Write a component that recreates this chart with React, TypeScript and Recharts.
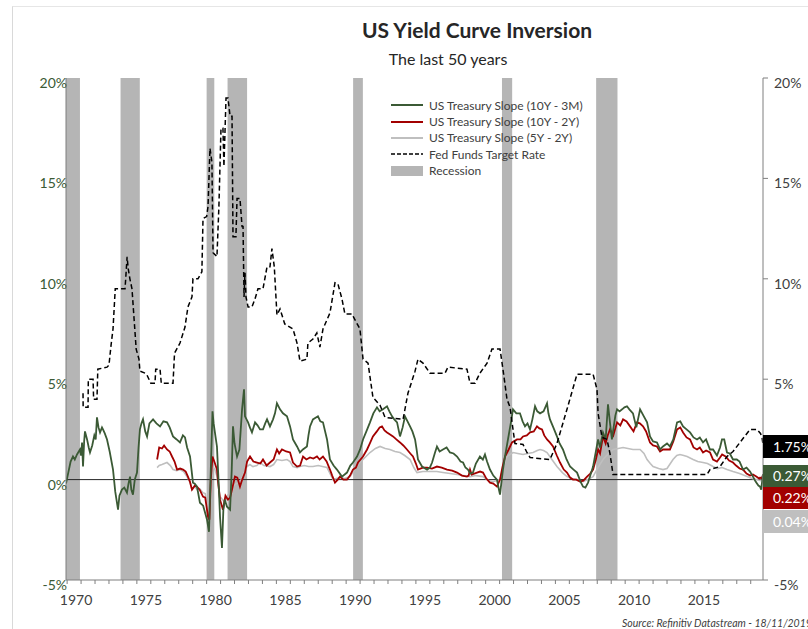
import { ComposedChart, Line, XAxis, YAxis, ReferenceArea, ReferenceLine } from 'recharts'

// [decimal year, %]
const slope10y3m: [number, number][] = [
  [1969.92, -0.2], [1970.1, 0.4], [1970.25, 0.9], [1970.42, 1.15], [1970.55, 1.0], [1970.71, 1.25], [1970.92, 1.5],
  [1971.0, 1.2], [1971.07, 1.85], [1971.14, 0.65], [1971.22, 1.9], [1971.28, 2.4], [1971.43, 2.0], [1971.55, 1.6],
  [1971.64, 1.35], [1971.8, 1.7], [1971.95, 2.2], [1972.05, 2.0], [1972.14, 3.1], [1972.25, 2.6], [1972.36, 2.35],
  [1972.5, 2.6], [1972.57, 2.5], [1972.7, 2.3], [1972.86, 2.0], [1973.05, 1.4], [1973.29, 0.5], [1973.45, -0.6],
  [1973.65, -1.5], [1973.75, -0.8], [1973.93, -0.5], [1974.1, -0.4], [1974.29, -0.65], [1974.4, -0.2], [1974.51, 0.15],
  [1974.6, -0.5], [1974.72, -0.75], [1974.85, 0.0], [1975.01, 0.35], [1975.12, 1.6], [1975.22, 2.5], [1975.33, 2.8],
  [1975.44, 3.0], [1975.6, 2.4], [1975.73, 2.15], [1975.9, 2.8], [1976.16, 3.0], [1976.4, 2.8], [1976.66, 2.65],
  [1976.9, 2.9], [1977.16, 2.85], [1977.35, 2.6], [1977.59, 2.15], [1977.85, 2.0], [1978.09, 1.85], [1978.3, 2.2],
  [1978.45, 2.1], [1978.6, 1.6], [1978.81, 1.15], [1979.02, -0.15], [1979.15, -0.2], [1979.31, -0.35], [1979.52, -1.15],
  [1979.75, -1.3], [1980.03, -2.0], [1980.17, -2.6], [1980.3, 0.5], [1980.42, 3.4], [1980.5, 2.8], [1980.74, 1.65],
  [1980.85, 0.0], [1980.96, -1.85], [1981.1, -3.4], [1981.2, -1.5], [1981.3, -1.0], [1981.46, -1.35], [1981.68, -1.5],
  [1981.8, 0.5], [1981.89, 2.65], [1982.0, 1.8], [1982.18, 1.15], [1982.35, 1.5], [1982.54, 3.5], [1982.68, 4.5],
  [1982.75, 3.15], [1982.97, 2.85], [1983.1, 2.6], [1983.25, 2.35], [1983.47, 2.85], [1983.65, 2.7], [1983.83, 2.5],
  [1984.04, 2.5], [1984.2, 2.8], [1984.33, 3.0], [1984.54, 2.65], [1984.76, 3.0], [1984.9, 3.3], [1985.04, 3.8],
  [1985.26, 3.5], [1985.47, 3.3], [1985.76, 3.15], [1985.98, 2.65], [1986.19, 2.0], [1986.48, 1.65], [1986.69, 1.35],
  [1986.9, 1.5], [1987.19, 1.65], [1987.3, 2.2], [1987.41, 2.65], [1987.62, 3.0], [1987.98, 3.15], [1988.15, 2.9],
  [1988.34, 2.85], [1988.63, 2.0], [1988.84, 1.0], [1989.1, 0.7], [1989.34, 0.5], [1989.7, 0.15], [1990.06, 0.35],
  [1990.3, 0.7], [1990.49, 0.85], [1990.78, 1.15], [1991.0, 1.5], [1991.21, 2.0], [1991.45, 2.4], [1991.71, 2.85],
  [1991.95, 3.3], [1992.21, 3.6], [1992.4, 3.4], [1992.64, 3.5], [1992.93, 3.65], [1993.1, 3.4], [1993.29, 3.15],
  [1993.45, 3.0], [1993.65, 2.85], [1993.86, 2.15], [1994.05, 2.6], [1994.22, 3.15], [1994.4, 2.9], [1994.58, 2.65],
  [1994.75, 2.4], [1994.94, 2.0], [1995.05, 1.5], [1995.15, 1.0], [1995.44, 0.65], [1995.8, 0.5], [1996.0, 0.6],
  [1996.16, 0.85], [1996.35, 1.3], [1996.51, 1.65], [1996.7, 1.4], [1996.94, 1.5], [1997.2, 1.6], [1997.44, 1.35],
  [1997.7, 1.3], [1997.95, 1.15], [1998.2, 0.9], [1998.38, 0.85], [1998.55, 0.6], [1998.73, 0.5], [1998.9, 0.3],
  [1999.09, 0.35], [1999.3, 0.8], [1999.59, 1.15], [1999.8, 1.0], [1999.95, 1.25], [2000.1, 0.9], [2000.31, 0.5],
  [2000.55, 0.2], [2000.81, 0.0], [2000.95, -0.5], [2001.03, -0.75], [2001.12, -0.2], [2001.24, 0.5], [2001.4, 1.2],
  [2001.6, 2.0], [2001.8, 2.8], [2001.96, 3.5], [2002.2, 3.3], [2002.46, 3.3], [2002.65, 2.9], [2002.82, 2.65],
  [2003.0, 2.8], [2003.18, 2.5], [2003.35, 3.0], [2003.54, 3.65], [2003.7, 3.4], [2003.9, 3.3], [2004.15, 3.4],
  [2004.4, 3.8], [2004.5, 3.3], [2004.61, 3.0], [2004.85, 2.6], [2005.11, 2.15], [2005.3, 1.8], [2005.54, 1.5],
  [2005.8, 1.0], [2006.05, 0.65], [2006.3, 0.5], [2006.55, 0.35], [2006.8, -0.1], [2006.98, -0.35], [2007.15, -0.4],
  [2007.34, -0.15], [2007.5, 0.2], [2007.7, 0.65], [2007.9, 1.4], [2008.06, 2.0], [2008.2, 1.6], [2008.41, 2.35],
  [2008.6, 2.0], [2008.77, 3.75], [2008.9, 2.9], [2009.05, 2.0], [2009.13, 2.4], [2009.3, 3.2], [2009.42, 3.5],
  [2009.6, 3.4], [2009.78, 3.5], [2009.95, 3.6], [2010.13, 3.65], [2010.3, 3.5], [2010.56, 3.3], [2010.8, 2.6],
  [2011.07, 3.5], [2011.3, 3.2], [2011.57, 2.85], [2011.78, 2.15], [2012.0, 1.9], [2012.28, 1.85], [2012.5, 1.5],
  [2012.71, 1.65], [2013.0, 1.8], [2013.21, 1.65], [2013.45, 2.0], [2013.72, 2.85], [2013.95, 2.9], [2014.15, 2.65],
  [2014.4, 2.5], [2014.65, 2.35], [2014.9, 2.1], [2015.15, 2.0], [2015.35, 2.1], [2015.58, 1.85], [2015.8, 2.0],
  [2016.08, 1.5], [2016.3, 1.5], [2016.58, 1.2], [2016.8, 1.6], [2016.94, 2.0], [2017.1, 2.0], [2017.3, 1.35],
  [2017.5, 1.3], [2017.73, 1.0], [2018.0, 1.0], [2018.2, 0.9], [2018.45, 0.5], [2018.7, 0.6], [2018.95, 0.4],
  [2019.16, 0.15], [2019.35, -0.1], [2019.55, -0.3], [2019.67, -0.35], [2019.75, -0.5], [2019.88, 0.27],
]

const slope10y2y: [number, number][] = [
  [1976.45, 1.0], [1976.6, 1.6], [1976.8, 1.55], [1976.95, 1.7], [1977.16, 1.5], [1977.35, 1.4], [1977.52, 1.15],
  [1977.7, 0.9], [1977.88, 0.5], [1978.1, 0.55], [1978.31, 0.5], [1978.5, 0.4], [1978.66, 0.15], [1978.8, -0.1],
  [1978.95, -0.5], [1979.15, -0.3], [1979.31, -0.35], [1979.5, -0.5], [1979.74, -0.85], [1979.9, -0.9], [1980.1, -1.85],
  [1980.2, -2.0], [1980.3, 0.0], [1980.42, 1.15], [1980.6, 0.8], [1980.74, 0.5], [1980.85, -0.3], [1980.96, -1.0],
  [1981.17, -1.5], [1981.35, -0.8], [1981.53, -1.0], [1981.68, -0.9], [1981.82, -0.5], [1982.03, 0.15], [1982.2, 0.1],
  [1982.39, -0.35], [1982.55, 0.0], [1982.75, 0.35], [1982.9, 0.9], [1983.11, 1.15], [1983.35, 0.9], [1983.61, 0.85],
  [1983.85, 0.8], [1984.04, 1.0], [1984.3, 0.7], [1984.54, 0.85], [1984.8, 1.0], [1985.04, 1.5], [1985.2, 1.3],
  [1985.4, 1.5], [1985.7, 1.4], [1985.98, 1.35], [1986.19, 0.85], [1986.48, 0.65], [1986.7, 0.7], [1986.91, 1.15],
  [1987.15, 1.0], [1987.41, 1.1], [1987.65, 1.05], [1987.91, 1.15], [1988.1, 1.0], [1988.34, 1.15], [1988.6, 0.9],
  [1988.84, 0.5], [1989.0, 0.2], [1989.2, -0.15], [1989.4, 0.0], [1989.56, 0.15], [1989.8, 0.0], [1990.06, 0.0],
  [1990.28, 0.2], [1990.49, 0.5], [1990.7, 0.6], [1990.85, 0.85], [1991.21, 1.15], [1991.5, 1.5], [1991.7, 1.8],
  [1991.92, 2.15], [1992.2, 2.4], [1992.4, 2.6], [1992.57, 2.65], [1992.75, 2.45], [1992.93, 2.35], [1993.15, 2.25],
  [1993.36, 2.15], [1993.6, 2.0], [1993.86, 1.85], [1994.1, 1.7], [1994.36, 1.5], [1994.6, 1.3], [1994.79, 1.15],
  [1995.0, 0.8], [1995.15, 0.5], [1995.5, 0.6], [1995.8, 0.6], [1996.15, 0.55], [1996.51, 0.65], [1996.85, 0.6],
  [1997.23, 0.5], [1997.6, 0.45], [1997.95, 0.35], [1998.3, 0.2], [1998.66, 0.15], [1998.78, 0.2], [1998.88, 0.5],
  [1999.0, 0.25], [1999.38, 0.35], [1999.6, 0.4], [1999.81, 0.35], [2000.05, 0.05], [2000.31, -0.15], [2000.55, -0.2],
  [2000.81, -0.35], [2001.03, 0.0], [2001.2, 0.6], [2001.39, 1.15], [2001.65, 1.5], [2001.89, 1.85], [2002.25, 2.0],
  [2002.5, 2.0], [2002.68, 2.15], [2002.95, 2.2], [2003.18, 2.35], [2003.45, 2.4], [2003.68, 2.65], [2003.85, 2.55],
  [2004.04, 2.5], [2004.2, 2.2], [2004.4, 2.0], [2004.6, 1.85], [2004.83, 1.65], [2005.1, 1.2], [2005.33, 0.85],
  [2005.6, 0.5], [2005.83, 0.35], [2006.05, 0.1], [2006.26, 0.0], [2006.5, 0.0], [2006.76, -0.1], [2007.0, -0.05],
  [2007.27, 0.15], [2007.5, 0.3], [2007.7, 0.5], [2007.9, 1.0], [2008.06, 1.5], [2008.2, 1.3], [2008.41, 2.15],
  [2008.6, 1.8], [2008.75, 2.2], [2008.91, 2.5], [2009.15, 2.2], [2009.42, 2.85], [2009.65, 2.7], [2009.85, 3.0],
  [2010.1, 2.9], [2010.35, 2.65], [2010.6, 2.4], [2010.85, 2.85], [2011.05, 2.8], [2011.28, 2.65], [2011.5, 2.4],
  [2011.78, 1.85], [2012.0, 1.7], [2012.28, 1.65], [2012.5, 1.4], [2012.71, 1.5], [2012.95, 1.5], [2013.21, 1.5],
  [2013.45, 1.9], [2013.72, 2.5], [2013.95, 2.6], [2014.15, 2.35], [2014.4, 2.1], [2014.65, 2.0], [2014.9, 1.6],
  [2015.15, 1.5], [2015.35, 1.6], [2015.58, 1.35], [2015.8, 1.45], [2016.08, 1.35], [2016.3, 1.0], [2016.58, 0.9],
  [2016.8, 1.1], [2016.95, 1.25], [2017.2, 1.15], [2017.45, 0.95], [2017.73, 0.85], [2017.95, 0.7], [2018.2, 0.55],
  [2018.45, 0.5], [2018.7, 0.3], [2018.95, 0.2], [2019.16, 0.25], [2019.4, 0.15], [2019.6, 0.05], [2019.67, 0.1],
  [2019.78, 0.05], [2019.88, 0.22],
]

const slope5y2y: [number, number][] = [
  [1976.45, 0.6], [1976.6, 0.7], [1976.8, 0.75], [1977.16, 0.85], [1977.4, 0.7], [1977.59, 0.5], [1977.85, 0.45],
  [1978.09, 0.5], [1978.35, 0.4], [1978.59, 0.15], [1978.8, -0.1], [1978.95, -0.5], [1979.15, -0.35], [1979.31, -0.5],
  [1979.5, -0.45], [1979.74, -0.65], [1979.9, -0.7], [1980.1, -1.5], [1980.2, -1.6], [1980.3, -0.2], [1980.42, 0.65],
  [1980.6, 0.5], [1980.74, 0.15], [1980.85, -0.3], [1980.96, -0.85], [1981.15, -1.0], [1981.32, -1.15], [1981.5, -0.8],
  [1981.68, -1.0], [1981.89, -0.35], [1982.1, -0.2], [1982.39, -0.15], [1982.6, 0.2], [1982.89, 0.65], [1983.1, 0.75],
  [1983.32, 0.65], [1983.6, 0.7], [1983.83, 0.85], [1984.1, 0.7], [1984.54, 0.65], [1984.8, 0.75], [1985.04, 1.0],
  [1985.4, 0.95], [1985.76, 1.0], [1985.98, 0.9], [1986.19, 0.65], [1986.5, 0.6], [1986.69, 0.65], [1987.0, 0.7],
  [1987.3, 0.65], [1987.62, 0.65], [1988.0, 0.7], [1988.3, 0.65], [1988.63, 0.6], [1988.85, 0.3], [1989.06, 0.0],
  [1989.3, 0.05], [1989.56, 0.1], [1989.9, 0.05], [1990.28, 0.15], [1990.6, 0.5], [1990.99, 0.85], [1991.35, 1.1],
  [1991.71, 1.35], [1992.1, 1.55], [1992.43, 1.65], [1992.8, 1.55], [1993.14, 1.5], [1993.5, 1.4], [1993.86, 1.35],
  [1994.2, 1.2], [1994.58, 1.0], [1994.85, 0.6], [1995.08, 0.35], [1995.5, 0.4], [1996.01, 0.4], [1996.5, 0.4],
  [1996.94, 0.35], [1997.45, 0.3], [1997.95, 0.25], [1998.4, 0.2], [1998.88, 0.15], [1999.3, 0.2], [1999.81, 0.15],
  [2000.2, -0.05], [2000.53, -0.1], [2000.8, -0.05], [2001.03, 0.0], [2001.25, 0.6], [2001.53, 1.15], [2001.96, 1.35],
  [2002.3, 1.3], [2002.68, 1.25], [2003.0, 1.3], [2003.4, 1.35], [2003.7, 1.45], [2003.9, 1.5], [2004.15, 1.45],
  [2004.4, 1.35], [2004.75, 1.0], [2005.11, 0.65], [2005.5, 0.35], [2005.83, 0.15], [2006.2, 0.05], [2006.55, 0.0],
  [2006.98, -0.1], [2007.3, 0.0], [2007.7, 0.15], [2008.05, 0.6], [2008.41, 1.0], [2008.8, 1.3], [2009.13, 1.5],
  [2009.5, 1.55], [2009.85, 1.6], [2010.2, 1.55], [2010.56, 1.5], [2011.07, 1.5], [2011.35, 1.3], [2011.57, 1.0],
  [2011.8, 0.8], [2012.0, 0.65], [2012.4, 0.55], [2012.71, 0.5], [2013.0, 0.55], [2013.43, 1.0], [2013.7, 1.2],
  [2013.93, 1.25], [2014.2, 1.2], [2014.44, 1.15], [2014.87, 1.0], [2015.2, 0.9], [2015.58, 0.85], [2015.9, 0.8],
  [2016.3, 0.65], [2016.6, 0.55], [2016.95, 0.6], [2017.3, 0.5], [2017.73, 0.4], [2018.2, 0.3], [2018.74, 0.15],
  [2019.1, 0.05], [2019.45, 0.0], [2019.7, -0.05], [2019.88, 0.04],
]

const fedFunds: [number, number][] = [
  [1971.14, 4.3], [1971.15, 3.6], [1971.5, 3.6], [1971.52, 5.0], [1971.86, 5.0], [1971.9, 4.0], [1972.14, 4.0],
  [1972.2, 5.5], [1972.86, 5.6], [1973.0, 5.7], [1973.15, 6.7], [1973.29, 7.5], [1973.45, 9.5], [1974.15, 9.5],
  [1974.2, 10.0], [1974.3, 11.1], [1974.38, 10.5], [1974.5, 10.0], [1974.65, 9.5], [1974.8, 8.0], [1974.95, 6.5],
  [1975.15, 6.0], [1975.22, 5.4], [1975.6, 5.3], [1975.73, 5.2], [1976.0, 4.8], [1976.3, 4.8], [1976.35, 5.5],
  [1976.66, 5.5], [1976.75, 4.8], [1977.59, 4.8], [1977.7, 6.3], [1978.09, 6.8], [1978.45, 7.6], [1978.66, 8.6],
  [1978.95, 9.1], [1979.02, 10.0], [1979.38, 10.0], [1979.66, 10.35], [1979.74, 13.0], [1980.0, 13.1], [1980.1, 13.6],
  [1980.24, 16.5], [1980.38, 15.8], [1980.46, 11.3], [1980.74, 11.1], [1980.88, 13.6], [1981.03, 17.5], [1981.17, 17.5],
  [1981.24, 15.6], [1981.39, 19.0], [1981.53, 19.0], [1981.68, 18.1], [1981.82, 18.1], [1981.89, 12.1], [1982.1, 12.1],
  [1982.18, 14.0], [1982.39, 14.0], [1982.54, 12.6], [1982.61, 12.6], [1982.68, 9.1], [1982.75, 10.3], [1982.82, 9.1],
  [1982.97, 8.6], [1983.25, 8.6], [1983.47, 9.0], [1983.68, 9.5], [1984.04, 9.5], [1984.33, 10.6], [1984.54, 10.6],
  [1984.68, 11.5], [1984.85, 10.6], [1985.04, 8.2], [1985.26, 8.5], [1985.6, 7.75], [1986.19, 7.5], [1986.48, 6.8],
  [1986.69, 5.9], [1987.19, 6.0], [1987.26, 6.8], [1987.62, 7.0], [1987.9, 7.3], [1988.12, 6.6], [1988.34, 7.5],
  [1988.84, 8.3], [1989.2, 9.8], [1989.41, 9.75], [1989.7, 9.0], [1989.91, 8.25], [1990.42, 8.25], [1990.6, 8.0],
  [1990.99, 7.5], [1991.21, 6.0], [1991.57, 5.8], [1991.92, 4.1], [1992.43, 3.7], [1992.79, 3.1], [1994.08, 3.0],
  [1994.43, 4.3], [1994.94, 5.4], [1995.15, 6.0], [1995.51, 5.8], [1996.01, 5.3], [1997.09, 5.3], [1997.3, 5.6],
  [1998.66, 5.5], [1998.88, 4.8], [1999.24, 4.8], [1999.59, 5.3], [2000.1, 5.8], [2000.45, 6.5], [2001.03, 6.5],
  [2001.24, 5.5], [2001.53, 4.0], [2001.75, 3.6], [2001.96, 2.5], [2002.1, 1.8], [2002.68, 1.75], [2002.96, 1.35],
  [2003.18, 1.1], [2004.61, 1.0], [2005.11, 1.8], [2005.83, 3.5], [2006.55, 5.25], [2007.7, 5.25], [2007.98, 4.5],
  [2008.06, 3.3], [2008.34, 2.1], [2008.7, 2.0], [2008.91, 1.3], [2009.13, 0.25], [2015.87, 0.25], [2016.08, 0.5],
  [2016.8, 0.65], [2017.3, 1.15], [2017.73, 1.4], [2018.23, 1.85], [2018.95, 2.5], [2019.45, 2.5], [2019.7, 2.3],
  [2019.81, 2.1], [2019.88, 1.75],
]

// NBER recessions, [start, end] as decimal years
const recessions: [number, number][] = [
  [1969.92, 1970.92], [1973.83, 1975.21], [1980.0, 1980.55], [1981.5, 1982.9],
  [1990.5, 1991.2], [2001.17, 2001.9], [2007.92, 2009.45],
]

const yearLabels = [1970, 1975, 1980, 1985, 1990, 1995, 2000, 2005, 2010, 2015]
const pctTicks = [-5, 0, 5, 10, 15, 20]

const GREEN = '#3b5a35'
const RED = '#a20000'
const GREY = '#bfbfbf'
const REC = '#b5b5b5'
const AXIS = '#7f7f7f'
const TEXT = '#404040'

const rows = (s: [number, number][]) => s.map(([t, v]) => ({ t, v }))
const last = (s: [number, number][]) => s[s.length - 1][1]

// yearly tick marks, label only every 5th year
const yearTicks: number[] = []
for (let y = yearLabels[0]; y <= 2019; y++) yearTicks.push(y)

const YearTick = (p: any) => {
  const v = p.payload.value
  if (!yearLabels.includes(v)) return <g />
  return (
    <text x={p.x + 9} y={p.y} dy="0.71em" textAnchor="middle" fill={TEXT} fontSize={14}>
      {v}
    </text>
  )
}

const LeftTick = (p: any) => (
  <text x={p.x + 1} y={p.y + 5} dy="0.355em" textAnchor="end" fill={GREEN} fontSize={14}>
    {p.payload.value}%
  </text>
)

// the 0% label on the right is hidden behind the value boxes
const RightTick = (p: any) =>
  p.payload.value === 0 ? (
    <g />
  ) : (
    <text x={p.x} y={p.y + 5} dy="0.355em" textAnchor="start" fill={TEXT} fontSize={14}>
      {p.payload.value}%
    </text>
  )

const legendItems = [
  { name: 'US Treasury Slope (10Y - 3M)', color: GREEN, kind: 'line' },
  { name: 'US Treasury Slope (10Y - 2Y)', color: RED, kind: 'line' },
  { name: 'US Treasury Slope (5Y - 2Y)', color: GREY, kind: 'line' },
  { name: 'Fed Funds Target Rate', color: '#000', kind: 'dash' },
  { name: 'Recession', color: REC, kind: 'box' },
]

const endLabels = [
  { value: last(fedFunds), bg: '#000', top: 435, h: 23 },
  { value: last(slope10y3m), bg: GREEN, top: 465, h: 22 },
  { value: last(slope10y2y), bg: RED, top: 487, h: 22 },
  { value: last(slope5y2y), bg: GREY, top: 510, h: 23 },
]

export default function App() {
  return (
    <div
      style={{
        position: 'absolute', left: 0, top: 0, width: 808, height: 629, overflow: 'hidden',
        background: '#fff', fontFamily: 'Lato, "Open Sans", sans-serif', color: TEXT,
      }}
    >
      <div style={{ position: 'absolute', left: 12, top: 6, width: 796, height: 623, borderLeft: '1px solid #d9d9d9', borderTop: '1px solid #e6e6e6' }} />
      <div style={{ position: 'absolute', left: 0, width: 954, top: 17, textAlign: 'center', fontSize: 21, fontWeight: 700, color: '#262626' }}>
        US Yield Curve Inversion
      </div>
      <div style={{ position: 'absolute', left: 0, width: 896, top: 49, textAlign: 'center', fontSize: 16, color: '#262626' }}>
        The last 50 years
      </div>

      <ComposedChart width={808} height={629} margin={{ top: 78, right: 0, bottom: 19, left: 0 }} style={{ position: 'absolute', left: 0, top: 0 }}>
        <XAxis
          type="number"
          dataKey="t"
          domain={[1969.92, 2019.88]}
          allowDataOverflow
          ticks={yearTicks}
          interval={0}
          tick={YearTick}
          tickSize={4}
          tickMargin={11}
          stroke={AXIS}
          height={30}
        />
        <YAxis
          yAxisId="left"
          domain={[-5, 20]}
          ticks={pctTicks}
          width={66}
          tickLine={false}
          tickSize={0}
          tickMargin={0}
          stroke={AXIS}
          tick={LeftTick}
        />
        <YAxis
          yAxisId="right"
          orientation="right"
          domain={[-5, 20]}
          ticks={pctTicks}
          width={45}
          tickSize={5}
          tickMargin={6}
          stroke={AXIS}
          tick={RightTick}
        />
        {recessions.map(([a, b]) => (
          <ReferenceArea key={a} yAxisId="left" x1={a} x2={b} y1={-5} y2={20} fill={REC} fillOpacity={1} stroke="none" />
        ))}
        <ReferenceLine yAxisId="left" y={0} stroke="#262626" strokeWidth={1} />
        <Line yAxisId="left" data={rows(slope5y2y)} dataKey="v" type="linear" stroke={GREY} strokeWidth={1.6} dot={false} isAnimationActive={false} />
        <Line yAxisId="left" data={rows(slope10y2y)} dataKey="v" type="linear" stroke={RED} strokeWidth={1.8} dot={false} isAnimationActive={false} />
        <Line yAxisId="left" data={rows(slope10y3m)} dataKey="v" type="linear" stroke={GREEN} strokeWidth={1.8} dot={false} isAnimationActive={false} />
        <Line yAxisId="right" data={rows(fedFunds)} dataKey="v" type="linear" stroke="#000" strokeWidth={1.5} strokeDasharray="5 3" dot={false} isAnimationActive={false} />
      </ComposedChart>

      {/* legend */}
      <div style={{ position: 'absolute', left: 391, top: 97, fontSize: 12, color: TEXT }}>
        {legendItems.map((it) => (
          <div key={it.name} style={{ display: 'flex', alignItems: 'center', height: 16.4 }}>
            <svg width={32} height={12} style={{ marginRight: 6 }}>
              {it.kind === 'box' ? (
                <rect x={0} y={1} width={32} height={10} fill={it.color} />
              ) : (
                <line x1={0} x2={32} y1={6} y2={6} stroke={it.color} strokeWidth={it.kind === 'dash' ? 1.5 : 2} strokeDasharray={it.kind === 'dash' ? '4 2' : undefined} />
              )}
            </svg>
            <span>{it.name}</span>
          </div>
        ))}
      </div>

      {/* last-value boxes on the right axis */}
      {endLabels.map((l) => (
        <div
          key={l.bg}
          style={{
            position: 'absolute', left: 763, top: l.top, width: 60, height: l.h, background: l.bg,
            color: '#fff', fontSize: 14, lineHeight: `${l.h}px`, paddingLeft: 10, boxSizing: 'border-box', whiteSpace: 'nowrap',
          }}
        >
          {l.value.toFixed(2)}%
        </div>
      ))}

      <div style={{ position: 'absolute', left: 622, top: 617, fontSize: 10.5, fontStyle: 'italic', color: TEXT, whiteSpace: 'nowrap' }}>
        Source: Refinitiv Datastream - 18/11/2019
      </div>
    </div>
  )
}
